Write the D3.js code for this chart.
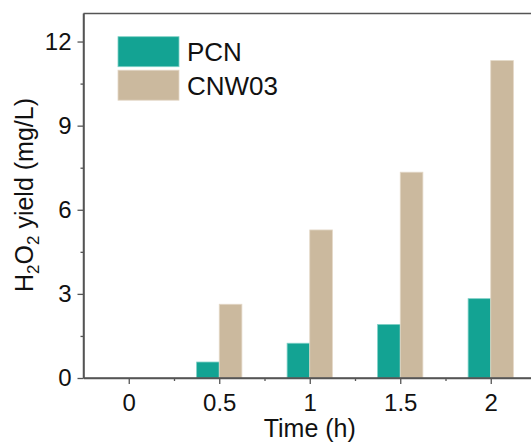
<!DOCTYPE html>
<html>
<head>
<meta charset="utf-8">
<script src="https://cdn.jsdelivr.net/npm/d3@7"></script>
<style>
  html, body { margin: 0; padding: 0; background: #fff; }
  svg { display: block; font-family: "Liberation Sans", Arial, sans-serif; }
</style>
</head>
<body>
<svg id="chart" width="531" height="446"></svg>
<script>
const times = [0, 0.5, 1, 1.5, 2];
const seriesNames = ["PCN", "CNW03"];
const pcnValues = [0, 0.57, 1.24, 1.91, 2.83];
const cnw03Values = [0, 2.63, 5.28, 7.34, 11.32];
const xTickLabels = ["0", "0.5", "1", "1.5", "2"];
const yTickValues = [0, 3, 6, 9, 12];
const yMinorTicks = [1.5, 4.5, 7.5, 10.5];
const xMinorTicks = [0.25, 0.75, 1.25, 1.75];
const colors = ["#13a393", "#cbb99e"];
const edgeColors = ["#7fd0c6", "#e3d7c6"];

const svg = d3.select("#chart");
const mLeft = 83.5, mTop = 13.5, mBottom = 378, mRight = 536;

const x = d3.scaleLinear().domain([-0.25, 2.25]).range([mLeft, mRight]);
const y = d3.scaleLinear().domain([0, 13]).range([mBottom, mTop]);
const halfBand = 0.125;
const bw = x(halfBand) - x(0);

const data = times.map((t, i) => ({ t, vals: [pcnValues[i], cnw03Values[i]] }));

// bars
const g = svg.append("g");
seriesNames.forEach((name, si) => {
  g.selectAll(".bar" + si)
    .data(data.filter(d => d.vals[si] > 0))
    .enter().append("rect")
    .attr("class", "bar" + si)
    .attr("x", d => si === 0 ? x(d.t) - bw : x(d.t))
    .attr("y", d => y(d.vals[si]))
    .attr("width", bw)
    .attr("height", d => y(0) - y(d.vals[si]))
    .attr("fill", colors[si])
    .attr("stroke", edgeColors[si])
    .attr("stroke-width", 0.8);
});

const axisColor = "#555";
// frame lines (top and right)
svg.append("line").attr("x1", mLeft).attr("x2", mRight).attr("y1", mTop).attr("y2", mTop)
  .attr("stroke", axisColor).attr("stroke-width", 1.5);
svg.append("line").attr("x1", mRight).attr("x2", mRight).attr("y1", mTop).attr("y2", mBottom)
  .attr("stroke", axisColor).attr("stroke-width", 1.5);

// x axis
const xAxis = svg.append("g").attr("transform", `translate(0,${mBottom})`)
  .call(d3.axisBottom(x).tickValues(times).tickFormat((d, i) => xTickLabels[i])
    .tickSize(6).tickPadding(10).tickSizeOuter(0));
const xMinor = svg.append("g").attr("transform", `translate(0,${mBottom})`)
  .call(d3.axisBottom(x).tickValues(xMinorTicks).tickFormat("").tickSize(3).tickSizeOuter(0));

// y axis
const yAxis = svg.append("g").attr("transform", `translate(${mLeft},0)`)
  .call(d3.axisLeft(y).tickValues(yTickValues).tickSize(6).tickPadding(6).tickSizeOuter(0));
const yMinor = svg.append("g").attr("transform", `translate(${mLeft},0)`)
  .call(d3.axisLeft(y).tickValues(yMinorTicks).tickFormat("").tickSize(3).tickSizeOuter(0));

[xAxis, xMinor, yAxis, yMinor].forEach(a => {
  a.select(".domain").attr("stroke", axisColor).attr("stroke-width", 1.5);
  a.selectAll(".tick line").attr("stroke", axisColor).attr("stroke-width", 1.3);
  a.selectAll(".tick text").attr("fill", "#111").style("font-size", "24px")
    .style("font-family", "'Liberation Sans', Arial, sans-serif");
});
xAxis.select(".domain").attr("d", `M${mLeft},0H${mRight}`);
yAxis.select(".domain").attr("d", `M0,${mBottom}V${mTop}`);

// axis titles
svg.append("text").attr("x", x(1)).attr("y", 437).attr("text-anchor", "middle")
  .attr("fill", "#111").style("font-size", "25px").text("Time (h)");

const yl = svg.append("text").attr("transform", "translate(33,195) rotate(-90)")
  .attr("text-anchor", "middle").attr("fill", "#111").style("font-size", "25px");
yl.append("tspan").text("H");
yl.append("tspan").attr("dy", 6).style("font-size", "17px").text("2");
yl.append("tspan").attr("dy", -6).text("O");
yl.append("tspan").attr("dy", 6).style("font-size", "17px").text("2");
yl.append("tspan").attr("dy", -6).text(" yield (mg/L)");

// legend
const legend = svg.append("g");
seriesNames.forEach((name, i) => {
  const ly = 36.7 + i * 33.5;
  legend.append("rect").attr("x", 118).attr("y", ly).attr("width", 61).attr("height", 30)
    .attr("fill", colors[i]).attr("stroke", edgeColors[i]).attr("stroke-width", 0.8);
  legend.append("text").attr("x", 187).attr("y", ly + 24.5)
    .attr("fill", "#111").style("font-size", "26px").text(name);
});
</script>
</body>
</html>
